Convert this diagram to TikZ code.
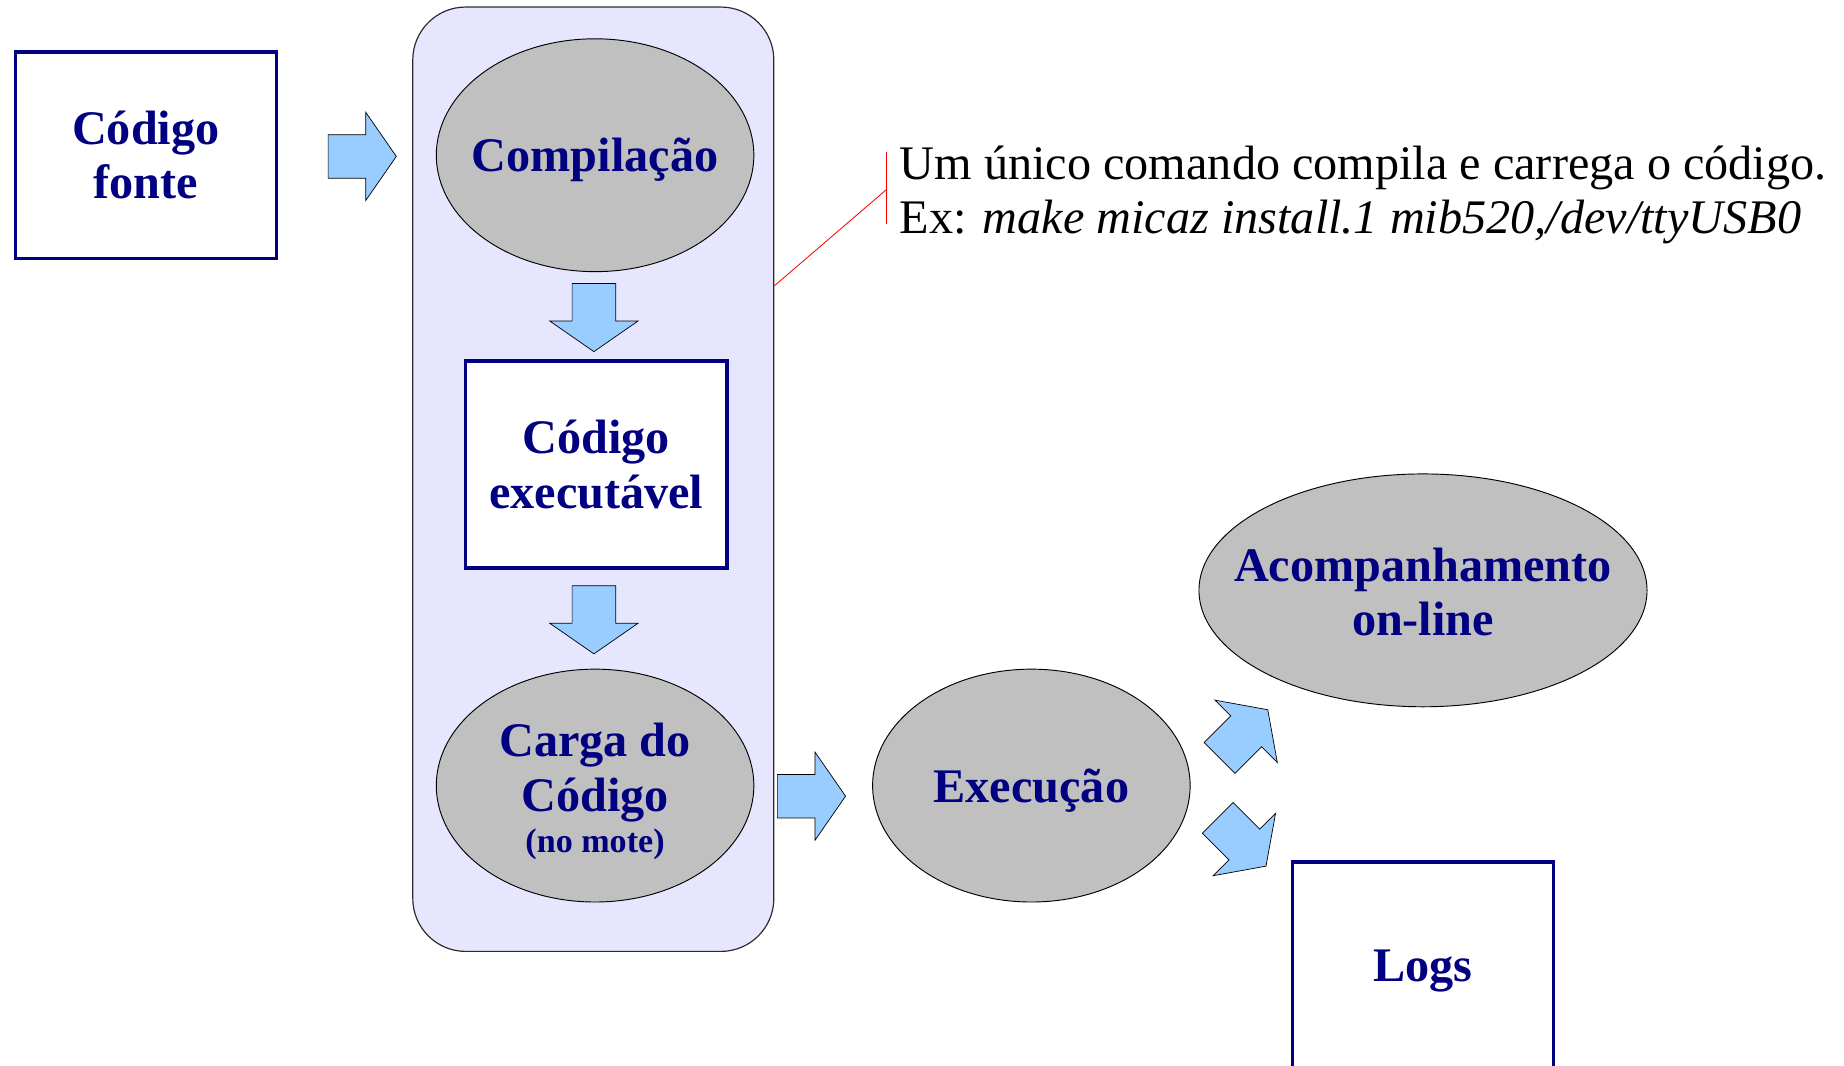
\documentclass[tikz,border=0pt]{standalone}
\usepackage{fontspec}
\setmainfont{Liberation Serif}
\usetikzlibrary{positioning,shapes.geometric}
\definecolor{marinho}{HTML}{000080}
\definecolor{lavanda}{HTML}{E6E6FF}
\definecolor{cinza}{HTML}{C0C0C0}
\definecolor{celeste}{HTML}{99CCFF}
\definecolor{borda}{HTML}{2B2B2B}

% seta de bloco: centro, angulo
\newcommand{\setabloco}[2]{%
  \draw[seta, shift={#1}, rotate=#2] (-29,-18.5) -- (3,-18.5) -- (3,-37.5) -- (29,0)
    -- (3,37.5) -- (3,18.5) -- (-29,18.5) -- cycle;}

\begin{document}
\begin{tikzpicture}[x=1pt, y=1pt,
    rotulo/.style={font=\fontsize{41}{46}\selectfont\bfseries, text=marinho, align=center, inner sep=0pt},
    caixa/.style={rotulo, draw=marinho, line width=3pt, fill=white, minimum width=222pt, minimum height=176pt},
    elipse/.style={ellipse, draw=black, line width=0.8pt, fill=cinza, minimum width=270pt, minimum height=198pt, inner sep=0pt},
    seta/.style={draw=black, line width=0.6pt, fill=celeste, line join=miter}]
  \useasboundingbox (0,0) rectangle (1568,906);

  \node[caixa] (fonte) at (124,774) {Código\\fonte};
  \setabloco{(308,773)}{0}

  \node[draw=borda, line width=1pt, fill=lavanda, rounded corners=45pt,
        minimum width=307pt, minimum height=803pt] (bloco) at (504.5,498.5) {};

  \node[elipse] (comp) at (506,774) {};
  \node[rotulo, yshift=-4pt] (tcomp) at (comp) {Compilação};
  \setabloco{(505,636)}{-90}
  \node[caixa] (exe) at (507,511) {Código\\executável};
  \setabloco{(505,379)}{-90}
  \node[elipse] (carga) at (506,238) {};
  \node[rotulo, yshift=-5pt] (tcarga) at (carga) {Carga do\\Código\\[-11pt]{\fontsize{29}{36}\selectfont(no mote)}};

  \setabloco{(690,229)}{0}
  \node[elipse] (execu) at (877,238) {};
  \node[rotulo, yshift=-4pt] (texecu) at (execu) {Execução};

  \setabloco{(1057.5,282)}{45}
  \setabloco{(1056,190)}{-45}
  \node[elipse, minimum width=381pt] (acomp) at (1210,404) {};
  \node[rotulo, yshift=-1.5pt] (tacomp) at (acomp) {Acompanhamento\\on-line};
  \node[caixa, minimum height=177pt, text height=31pt, text depth=5pt] (logs) at (1210,84.5) {Logs};

  % nota sobre a compilacao
  \node[anchor=west, align=left, inner sep=0pt, font=\fontsize{41}{46}\selectfont] (nota) at (765,740.5)
    {Um único comando compila e carrega o código.\\Ex: \textit{make micaz install.1 mib520,/dev/ttyUSB0}};
  \coordinate (chave) at (754,745);
  \draw[red, line width=0.7pt] ([yshift=164.5]bloco.east) -- (chave);
  \draw[red, line width=0.7pt] ([yshift=31.5]chave) -- ([yshift=-29.5]chave);
\end{tikzpicture}
\end{document}
